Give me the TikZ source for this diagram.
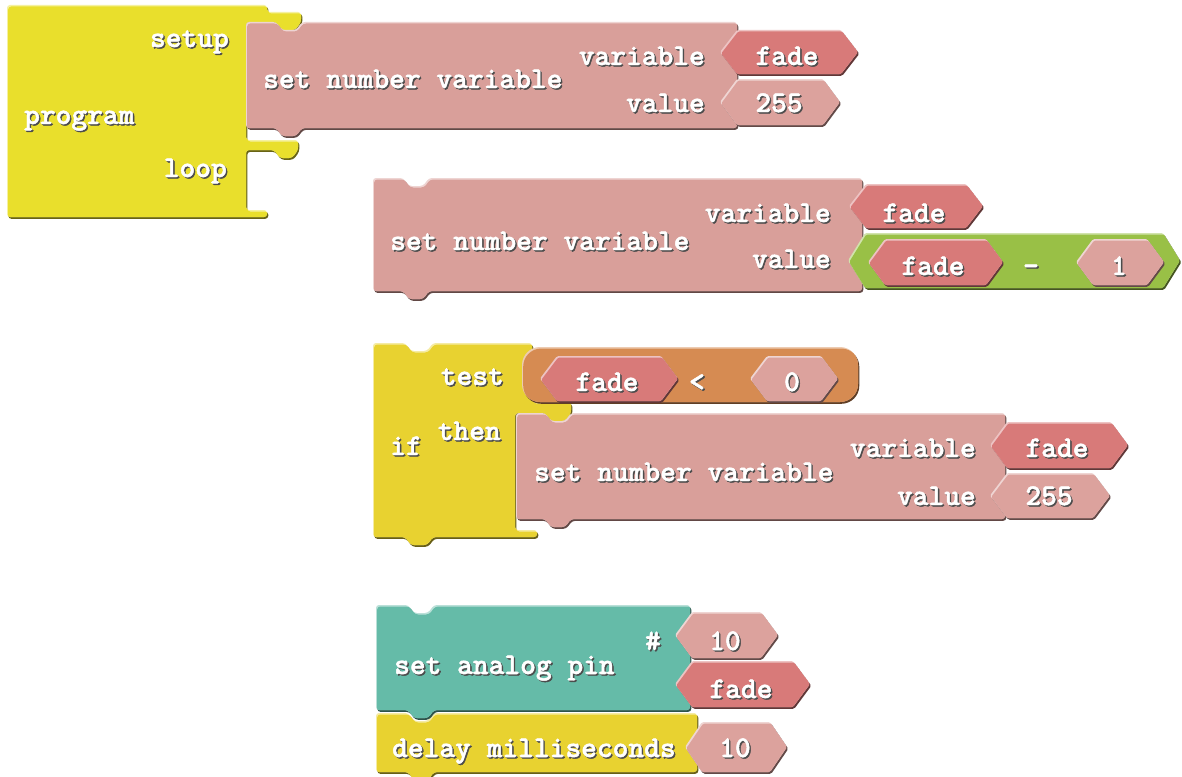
\documentclass[tikz,border=0pt]{standalone}
\usepackage{fontspec}
\newfontfamily\blkfam{lmmonolt10-bold}[Extension=.otf, FakeBold=1.6]
\definecolor{progyellow}{HTML}{E9DF2C}
\definecolor{ifyellow}{HTML}{E8D230}
\definecolor{pinkbody}{HTML}{D99F9A}
\definecolor{varred}{HTML}{D87A79}
\definecolor{numpink}{HTML}{DCA29D}
\definecolor{mathgreen}{HTML}{99C046}
\definecolor{cmporange}{HTML}{D68B52}
\definecolor{pinteal}{HTML}{65BBA8}
\newcommand\blkfont{\blkfam\fontsize{30}{30}\selectfont}
% bevelled block: dark drop edge, light top-left rim, body colour
\newcommand\bshape[3][rounded corners=3pt]{%
  \begin{scope}[shift={(1.3,1.8)}]\fill[#2!45!black,#1] #3;\end{scope}
  \fill[#2!45!white,#1] #3;
  \begin{scope}
    \path[#1,clip] #3;
    \begin{scope}[shift={(1.2,1.5)}]\fill[#2,#1] #3;\end{scope}
  \end{scope}}
% value block: colour, left, right, top, bottom
\newcommand\hexblk[5]{\bshape[rounded corners=1.5pt]{#1}{(#2,{(#4+#5)/2}) -- ({#2+17},#4) -- ({#3-17},#4) -- (#3,{(#4+#5)/2}) -- ({#3-17},#5) -- ({#2+17},#5) -- cycle}}
% statement block: colour, left, top, right, bottom, notch start
\newcommand\stmtblk[6]{\bshape{#1}{(#2,#3) -- (#6,#3) -- ({#6+6},{#3+8}) -- ({#6+20},{#3+8}) -- ({#6+26},#3) -- (#4,#3) -- (#4,#5) -- ({#6+26},#5) -- ({#6+20},{#5+8}) -- ({#6+6},{#5+8}) -- (#6,#5) -- (#2,#5) -- cycle}}
% shadowed white label: name, anchor, baseline position, text
\newcommand\lbl[4]{%
  \node[btxt,text=black!70,anchor=#2,xshift=1.4pt,yshift=-1.4pt] (#1-sh) at (#3) {#4};
  \node[btxt,anchor=#2] (#1) at (#3) {#4};}
\begin{document}
\begin{tikzpicture}[x=1pt,y=-1pt,btxt/.style={font=\blkfont,text=white,inner sep=0pt}]
\useasboundingbox (0,0) rectangle (1182,776);
\fill[white] (0,0) rectangle (1182,776);

% program block with setup and loop slots
\bshape{progyellow}{(7,5) -- (267,5) -- (267,12) -- (301,12) -- (301,22) -- (295,30) -- (282,30) -- (276,22) -- (246,22) -- (246,140) -- (298,140) -- (298,150) -- (292,158) -- (280,158) -- (274,150) -- (246,150) -- (246,210) -- (267,210) -- (267,217) -- (7,217) -- cycle}
\lbl{setup}{base east}{229,47}{setup}
\lbl{program}{base west}{24,124}{program}
\lbl{loop}{base east}{227,177}{loop}

% set number variable (setup)
\stmtblk{pinkbody}{246}{22}{737}{128}{276}
\hexblk{varred}{720}{858}{30}{74}
\hexblk{numpink}{720}{840}{79}{125}
\lbl{snv1}{base west}{263,88}{set number variable}
\lbl{var1}{base east}{705,65}{variable}
\lbl{val1}{base east}{705,112}{value}
\lbl{fade1}{base}{787,65}{fade}
\lbl{n255a}{base}{779,112}{255}

% set number variable: fade - 1
\stmtblk{pinkbody}{373}{178}{862}{291}{403}
\hexblk{varred}{849}{983}{184}{228}
\hexblk{mathgreen}{848}{1180}{233}{288}
\hexblk{varred}{868}{1003}{239}{285}
\hexblk{numpink}{1076}{1164}{239}{285}
\lbl{snv2}{base west}{390,250}{set number variable}
\lbl{var2}{base east}{831,222}{variable}
\lbl{val2}{base east}{831,268}{value}
\lbl{fade2}{base}{914,222}{fade}
\lbl{fade3}{base}{933,275}{fade}
\lbl{minus}{base}{1031,275}{-}
\lbl{one}{base}{1119,275}{1}

% if block
\bshape{ifyellow}{(373,343) -- (405,343) -- (411,351) -- (427,351) -- (433,343) -- (532,343) -- (532,402) -- (571,402) -- (571,413) -- (565,421) -- (551,421) -- (545,413) -- (515,413) -- (515,530) -- (537,530) -- (537,537) -- (433,537) -- (427,545) -- (411,545) -- (405,537) -- (373,537) -- cycle}
\bshape[rounded corners=18pt]{cmporange}{(522,347) rectangle (858,402)}
\hexblk{varred}{540}{678}{356}{401}
\hexblk{numpink}{750}{838}{356}{401}
\lbl{test}{base east}{504,385}{test}
\lbl{then}{base east}{501,440}{then}
\lbl{if}{base west}{390,455}{if}
\lbl{fade4}{base}{607,391}{fade}
\lbl{less}{base}{697,391}{<}
\lbl{zero}{base}{792,391}{0}

% set number variable (then branch)
\stmtblk{pinkbody}{516}{413}{1005}{519}{545}
\hexblk{varred}{990}{1128}{422}{468}
\hexblk{numpink}{990}{1110}{473}{518}
\lbl{snv3}{base west}{534,481}{set number variable}
\lbl{var3}{base east}{976,457}{variable}
\lbl{val3}{base east}{976,505}{value}
\lbl{fade5}{base}{1057,457}{fade}
\lbl{n255b}{base}{1049,505}{255}

% delay milliseconds
\stmtblk{ifyellow}{376}{713}{697}{772}{408}
\hexblk{numpink}{685}{787}{722}{772}
\lbl{delay}{base west}{392,757}{delay milliseconds}
\lbl{ten2}{base}{735,757}{10}

% set analog pin
\stmtblk{pinteal}{376}{605}{690}{710}{408}
\hexblk{numpink}{675}{778}{612}{658}
\hexblk{varred}{675}{810}{661}{707}
\lbl{hash}{base}{653,650}{\#}
\lbl{sap}{base west}{394,674}{set analog pin}
\lbl{ten1}{base}{725,650}{10}
\lbl{fade6}{base}{741,698}{fade}
\end{tikzpicture}
\end{document}
